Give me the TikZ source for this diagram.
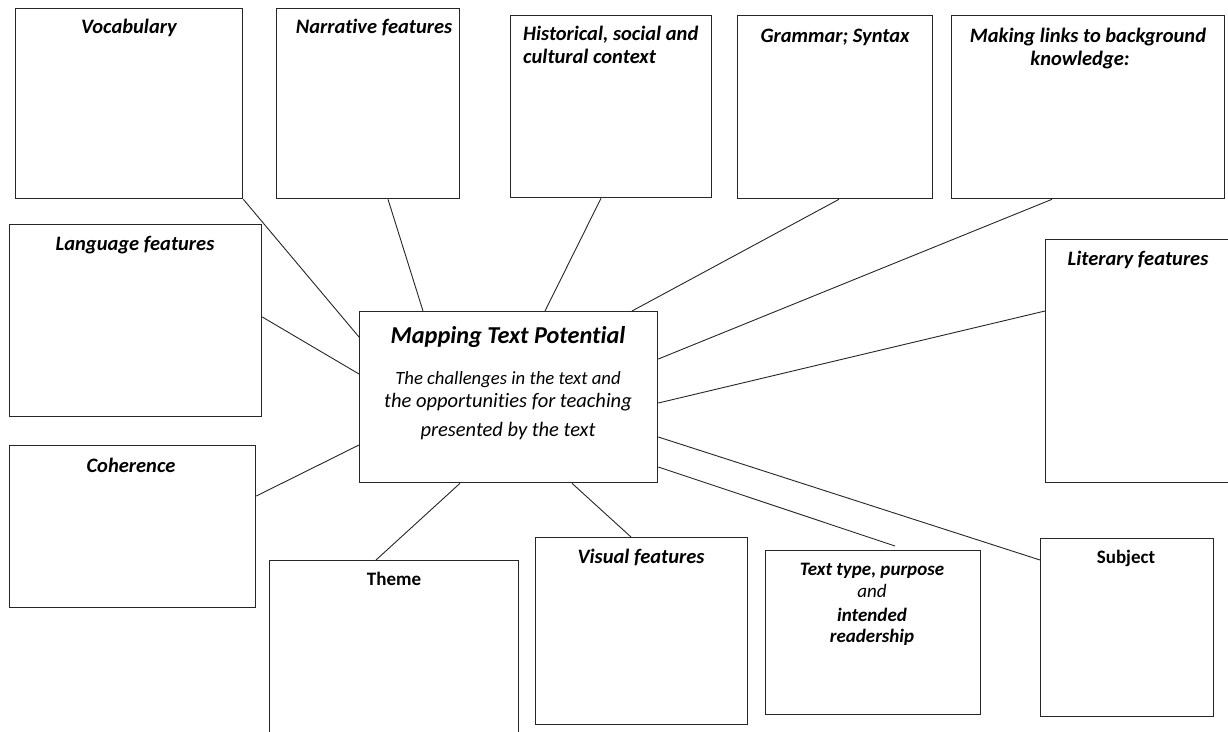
\documentclass[tikz,border=0pt]{standalone}
\usepackage{fontspec}
\setmainfont{Carlito}[Ligatures=NoCommon]
\usetikzlibrary{calc}
\newcommand\hfont{\fontsize{20.5}{24}\selectfont\bfseries\itshape}
\newcommand\tfont{\fontsize{19}{22}\selectfont\bfseries\itshape}
\tikzset{
  box/.style={draw=black!85, line width=1.3pt, fill=none, inner sep=0pt, anchor=north west},
  conn/.style={draw=black!85, line width=0.9pt},
  head/.style={inner sep=0pt, anchor=base, font=\hfont},
  headplain/.style={inner sep=0pt, anchor=base, font=\fontsize{19}{23}\selectfont\bfseries},
}
\begin{document}
\begin{tikzpicture}[x=1pt,y=-1pt]
\useasboundingbox[fill=white] (0,0) rectangle (1228,731);
% boxes
\node[box, minimum width=227pt, minimum height=190pt] (voc) at (15,8) {};
\node[box, minimum width=183pt, minimum height=190pt] (nar) at (276,8) {};
\node[box, minimum width=201pt, minimum height=182pt] (his) at (510,15) {};
\node[box, minimum width=195pt, minimum height=183pt] (gra) at (737,15) {};
\node[box, minimum width=273pt, minimum height=183pt] (mak) at (951,15) {};
\node[box, minimum width=252pt, minimum height=192pt] (lan) at (9,224) {};
\node[box, minimum width=200pt, minimum height=243pt] (lit) at (1045,239) {};
\node[box, minimum width=298pt, minimum height=171pt] (ctr) at (359,311) {};
\node[box, minimum width=246pt, minimum height=162pt] (coh) at (9,445) {};
\node[box, minimum width=249pt, minimum height=190pt] (the) at (269,560) {};
\node[box, minimum width=212pt, minimum height=187pt] (vis) at (535,537) {};
\node[box, minimum width=215pt, minimum height=164pt] (txt) at (765,550) {};
\node[box, minimum width=173pt, minimum height=178pt] (sub) at (1040,538) {};
% headings
\node[head] (vocT) at (129,33) {Vocabulary};
\node[head] (narT) at (374,33) {Narrative features};
\node[head, anchor=base west] (hisT1) at (523,40) {Historical, social and};
\node[head, anchor=base west] (hisT2) at (523,63) {cultural context};
\node[head] (graT) at (835,42) {Grammar; Syntax};
\node[head] (makT1) at (1088,42) {Making links to background};
\node[head] (makT2) at (1080,65) {knowledge:};
\node[head] (lanT) at (135,250) {Language features};
\node[head] (litT) at (1138,265) {Literary features};
\node[head] (cohT) at (131,472) {Coherence};
\node[headplain] (theT) at (394,585) {Theme};
\node[head] (visT) at (641,563) {Visual features};
\node[inner sep=0pt, anchor=base, font=\tfont] (txtT1) at (872,575) {Text type, purpose};
\node[inner sep=0pt, anchor=base, font=\fontsize{19}{22}\selectfont\itshape] (txtT2) at (872,597) {and};
\node[inner sep=0pt, anchor=base, font=\tfont] (txtT3) at (872,621) {intended};
\node[inner sep=0pt, anchor=base, font=\tfont] (txtT4) at (872,642) {readership};
\node[headplain] (subT) at (1126,563) {Subject};
% central text
\node[inner sep=0pt, anchor=base, font=\fontsize{24.3}{28}\selectfont\bfseries\itshape] (ctrT) at (508,343) {Mapping Text Potential};
\node[inner sep=0pt, anchor=base, font=\fontsize{18.7}{22}\selectfont\itshape] (ctrL1) at (508,384) {The challenges in the text and};
\node[inner sep=0pt, anchor=base, font=\fontsize{20.5}{24}\selectfont\itshape] (ctrL2) at (508,407) {the opportunities for teaching};
\node[inner sep=0pt, anchor=base, font=\fontsize{20.5}{24}\selectfont\itshape] (ctrL3) at (508,436) {presented by the text};
% connectors
\coordinate (txtEnd) at ($(txt.north west)+(130,-4)$);
\draw[conn] (voc.south east) -- ($(ctr.north west)+(0,26)$);
\draw[conn] ($(nar.south west)+(112,0)$) -- ($(ctr.north west)+(64,0)$);
\draw[conn] ($(his.south west)+(91,0)$) -- ($(ctr.north west)+(186,0)$);
\draw[conn] ($(gra.south west)+(102,0)$) -- ($(ctr.north west)+(273,0)$);
\draw[conn] ($(mak.south west)+(101,0)$) -- ($(ctr.north east)+(0,48)$);
\draw[conn] ($(lit.north west)+(0,72)$) -- ($(ctr.north east)+(0,92)$);
\draw[conn] ($(sub.north west)+(0,22)$) -- ($(ctr.north east)+(0,126)$);
\draw[conn] (txtEnd) -- ($(ctr.north east)+(0,156)$);
\draw[conn] ($(vis.north west)+(96,0)$) -- ($(ctr.south west)+(213,0)$);
\draw[conn] ($(the.north west)+(107,0)$) -- ($(ctr.south west)+(101,0)$);
\draw[conn] ($(coh.north east)+(0,51)$) -- ($(ctr.north west)+(0,134)$);
\draw[conn] ($(lan.north east)+(0,93)$) -- ($(ctr.north west)+(0,63)$);
\end{tikzpicture}
\end{document}
